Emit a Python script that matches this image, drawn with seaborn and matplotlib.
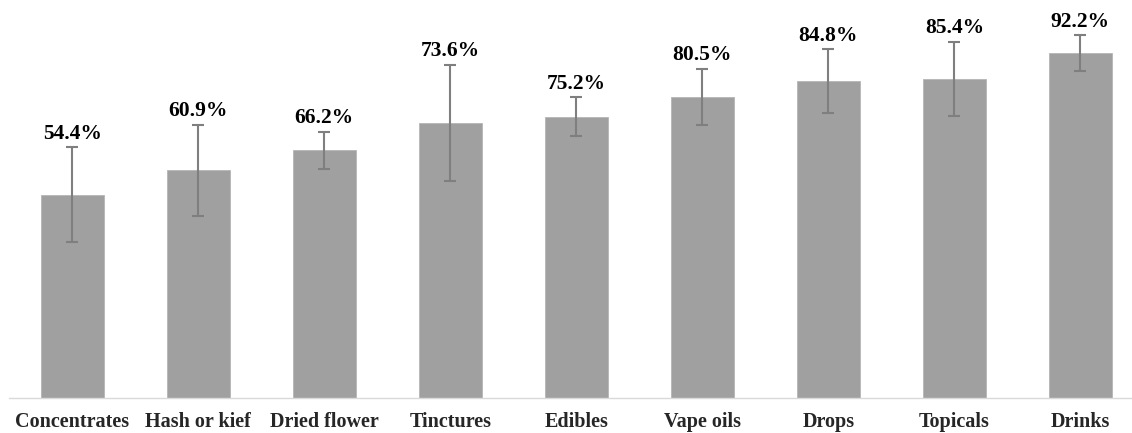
import numpy as np
import pandas as pd
import matplotlib
matplotlib.use('Agg')
import matplotlib.pyplot as plt
import seaborn as sns

# data
categories = ['Concentrates', 'Hash or kief', 'Dried flower', 'Tinctures', 'Edibles',
              'Vape oils', 'Drops', 'Topicals', 'Drinks']
values = [54.4, 60.9, 66.2, 73.6, 75.2, 80.5, 84.8, 85.4, 92.2]
errors = [12.7, 12.2, 5.0, 15.5, 5.2, 7.5, 8.5, 9.9, 4.8]
labels = ['54.4%', '60.9%', '66.2%', '73.6%', '75.2%', '80.5%', '84.8%', '85.4%', '92.2%']

sns.set_theme(style='white')
plt.rcParams['font.family'] = ['Liberation Serif', 'DejaVu Serif']

BAR_COLOR = '#A0A0A0'
ERR_COLOR = '#7F7F7F'
AXIS_COLOR = '#D9D9D9'

df = pd.DataFrame({'category': categories, 'value': values})

fig = plt.figure(figsize=(11.32, 4.33), dpi=100)
ax = fig.add_axes([9.3 / 1132, 35 / 433, 1 - 9.3 / 1132, 398 / 433])

sns.barplot(data=df, x='category', y='value', color=BAR_COLOR, width=0.5,
            errorbar=None, saturation=1, ax=ax, edgecolor='#B5B5B5', linewidth=0.6)

xpos = np.arange(len(categories))
ax.errorbar(xpos, values, yerr=errors, fmt='none', ecolor=ERR_COLOR,
            elinewidth=1.5, capsize=4, capthick=1.5)

for x, v, e, lab in zip(xpos, values, errors, labels):
    ax.annotate(lab, (x, v + e), xytext=(0, 6), textcoords='offset points',
                ha='center', va='baseline', fontsize=15.5, fontweight='bold',
                color='black')

ax.set_xlim(-0.5, 8.41)
ax.set_ylim(0, 106.4)
ax.set_xlabel('')
ax.set_ylabel('')
ax.set_yticks([])
for s in ['top', 'right', 'left']:
    ax.spines[s].set_visible(False)
ax.spines['bottom'].set_color(AXIS_COLOR)
ax.spines['bottom'].set_linewidth(1.0)
ax.tick_params(axis='x', length=0, pad=10, labelsize=14.5)
for t in ax.get_xticklabels():
    t.set_fontweight('bold')
ax.set_facecolor('white')

fig.savefig('out.png', dpi=100, facecolor='white')
